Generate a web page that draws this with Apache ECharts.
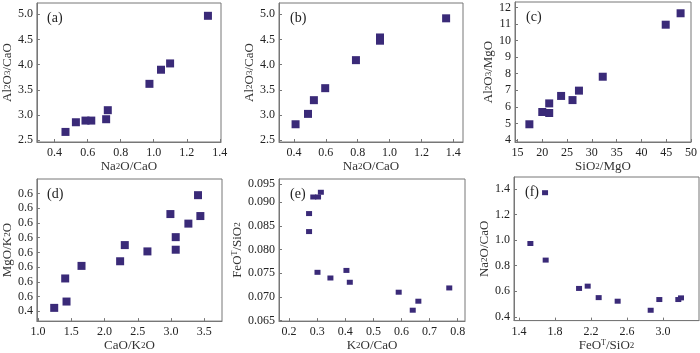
<!DOCTYPE html>
<html><head><meta charset="utf-8">
<script src="https://cdn.jsdelivr.net/npm/echarts@6/dist/echarts.min.js"></script>
<style>html,body{margin:0;padding:0;background:#fff}#c{width:700px;height:353px}</style>
</head><body><div id="c"></div>
<script>
// ---- data ----
const aX = [0.466,0.529,0.587,0.622,0.712,0.722,0.974,1.044,1.099,1.328];
const aY = [2.666,2.858,2.891,2.891,2.918,3.097,3.62,3.90,4.025,4.97];
const bX = [0.41,0.488,0.525,0.596,0.789,0.94,0.94,1.355];
const bY = [2.818,3.024,3.296,3.534,4.09,4.54,4.476,4.92];
const cX = [17.4,20.0,21.4,21.4,23.8,26.1,27.4,32.2,44.9,47.9];
const cY = [4.95,5.69,5.63,6.21,6.66,6.41,6.98,7.82,10.96,11.65];
const dX = [1.245,1.43,1.41,1.655,2.235,2.305,2.645,3.07,3.07,2.99,3.26,3.405,3.44];
const dY = [0.445,0.531,0.845,1.016,1.079,1.299,1.213,1.236,1.407,1.721,1.591,1.978,1.694];
const eX = [0.271,0.271,0.286,0.303,0.313,0.301,0.347,0.404,0.416,0.59,0.64,0.66,0.77];
const eY = [0.0838,0.0876,0.0911,0.0911,0.0921,0.0752,0.0740,0.0756,0.0731,0.0710,0.0672,0.0691,0.0719];
const fX = [1.526,1.689,1.696,2.067,2.163,2.285,2.496,2.863,2.959,3.17,3.2];
const fY = [0.974,1.372,0.844,0.622,0.64,0.55,0.522,0.451,0.535,0.535,0.548];

// tick positions and tick labels
const aXTicks = [0.4,0.6,0.8,1.0,1.2,1.4], aXLabels = ['0.4','0.6','0.8','1.0','1.2','1.4'];
const aYTicks = [2.5,3.0,3.5,4.0,4.5,5.0], aYLabels = ['2.5','3.0','3.5','4.0','4.5','5.0'];
const bXTicks = [0.4,0.6,0.8,1.0,1.2,1.4], bXLabels = ['0.4','0.6','0.8','1.0','1.2','1.4'];
const bYTicks = [2.5,3.0,3.5,4.0,4.5,5.0], bYLabels = ['2.5','3.0','3.5','4.0','4.5','5.0'];
const cXTicks = [15,20,25,30,35,40,45,50], cXLabels = ['15','20','25','30','35','40','45','50'];
const cYTicks = [4,5,6,7,8,9,10,11,12], cYLabels = ['4','5','6','7','8','9','10','11','12'];
const dXTicks = [1.0,1.5,2.0,2.5,3.0,3.5], dXLabels = ['1.0','1.5','2.0','2.5','3.0','3.5'];
const dYTicks = [0.4,0.6,0.8,1.0,1.2,1.4,1.6,1.8,2.0,2.135];
const dYLabels = ['0.4','0.6','0.6','0.6','0.6','0.6','0.6','0.6','0.6','0.6'];
const eXTicks = [0.2,0.3,0.4,0.5,0.6,0.7,0.8], eXLabels = ['0.2','0.3','0.4','0.5','0.6','0.7','0.8'];
const eYTicks = [0.065,0.070,0.075,0.080,0.085,0.090,0.0938];
const eYLabels = ['0.065','0.070','0.075','0.080','0.085','0.090','0.095'];
const fXTicks = [1.4,1.8,2.2,2.6,3.0], fXLabels = ['1.4','1.8','2.2','2.6','3.0'];
const fYTicks = [0.4,0.6,0.8,1.0,1.2,1.4], fYLabels = ['0.4','0.6','0.8','1.0','1.2','1.4'];

const panelNames = ['(a)','(b)','(c)','(d)','(e)','(f)'];
const xNames = ['Na{s|2}O/CaO','Na{s|2}O/CaO','SiO{s|2}/MgO','CaO/K{s|2}O','K{s|2}O/CaO','FeO{u|T}/SiO{s|2}'];
const yNames = ['Al{s|2}O{s|3}/CaO','Al{s|2}O{s|3}/CaO','Al{s|2}O{s|3}/MgO','MgO/K{s|2}O','FeO{u|T}/SiO{s|2}','Na{s|2}O/CaO'];

// ---- layout ----
const FONT = 'Liberation Serif';
const MARK = '#3a2a78';
const FRAME = '#777';
const panels = [
  {g:[36,3,185,139],  xr:[0.293,1.407], yr:[2.466,5.224], xt:aXTicks, xl:aXLabels, yt:aYTicks, yl:aYLabels, x:aX, y:aY, s:8, yg:21},
  {g:[279,3,184,139], xr:[0.306,1.461], yr:[2.466,5.224], xt:bXTicks, xl:bXLabels, yt:bYTicks, yl:bYLabels, x:bX, y:bY, s:8, yg:21},
  {g:[515,2,183,140], xr:[14.5,50],     yr:[3.88,12.33],  xt:cXTicks, xl:cXLabels, yt:cYTicks, yl:cYLabels, x:cX, y:cY, s:8, yg:17},
  {g:[36,179,186,144],xr:[0.985,3.765], yr:[0.265,2.198], xt:dXTicks, xl:dXLabels, yt:dYTicks, yl:dYLabels, x:dX, y:dY, s:8, yg:21},
  {g:[279,179,186,145],xr:[0.164,0.826],yr:[0.0649,0.0949],xt:eXTicks, xl:eXLabels, yt:eYTicks, yl:eYLabels, x:eX, y:eY, s:[6,5], yg:31},
  {g:[514,177,185,147],xr:[1.344,3.4],  yr:[0.37,1.495],  xt:fXTicks, xl:fXLabels, yt:fYTicks, yl:fYLabels, x:fX, y:fY, s:[6,5], yg:21}
];

const rich = {s:{fontFamily:FONT,fontSize:9,color:'#333'}, u:{fontFamily:FONT,fontSize:8,color:'#333',verticalAlign:'top',padding:[0,0,6,0]}};
function fmt(ticks, labels){
  return function(v){
    for (let j=0;j<ticks.length;j++) if (Math.abs(ticks[j]-v) < 1e-9) return labels[j];
    return '';
  };
}
const grid=[], xAxis=[], yAxis=[], series=[], title=[];
panels.forEach((p,i)=>{
  grid.push({left:p.g[0], top:p.g[1], width:p.g[2], height:p.g[3], show:true, borderColor:FRAME, borderWidth:1, containLabel:false});
  const common = {
    gridIndex:i, type:'value', nameLocation:'middle',
    nameTextStyle:{fontFamily:FONT, fontSize:13, color:'#333', rich:rich},
    axisLine:{show:true, onZero:false, lineStyle:{color:FRAME, width:1}},
    splitLine:{show:false}
  };
  xAxis.push(Object.assign({}, common, {
    min:p.xr[0], max:p.xr[1], name:xNames[i], nameGap:16,
    axisTick:{show:true, inside:true, length:3, customValues:p.xt, lineStyle:{color:FRAME}},
    axisLabel:{customValues:p.xt, formatter:fmt(p.xt,p.xl), fontFamily:FONT, fontSize:12, color:'#222', margin:5, hideOverlap:false}
  }));
  yAxis.push(Object.assign({}, common, {
    min:p.yr[0], max:p.yr[1], name:yNames[i], nameGap:p.yg,
    axisTick:{show:true, inside:true, length:3, customValues:p.yt, lineStyle:{color:FRAME}},
    axisLabel:{customValues:p.yt, formatter:fmt(p.yt,p.yl), fontFamily:FONT, fontSize:12, color:'#222', margin:4, hideOverlap:false}
  }));
  series.push({type:'scatter', xAxisIndex:i, yAxisIndex:i, symbol:'rect', symbolSize:p.s,
    itemStyle:{color:MARK, opacity:1}, data:p.x.map((v,k)=>[v,p.y[k]]), silent:true});
  title.push({text:panelNames[i], left:p.g[0]+6, top:p.g[1]+3, textStyle:{fontFamily:FONT, fontSize:14, fontWeight:'normal', color:'#222'}});
});

const chart = echarts.init(document.getElementById('c'), null, {renderer:'canvas'});
chart.setOption({animation:false, backgroundColor:'#fff', title, grid, xAxis, yAxis, series});
</script></body></html>
